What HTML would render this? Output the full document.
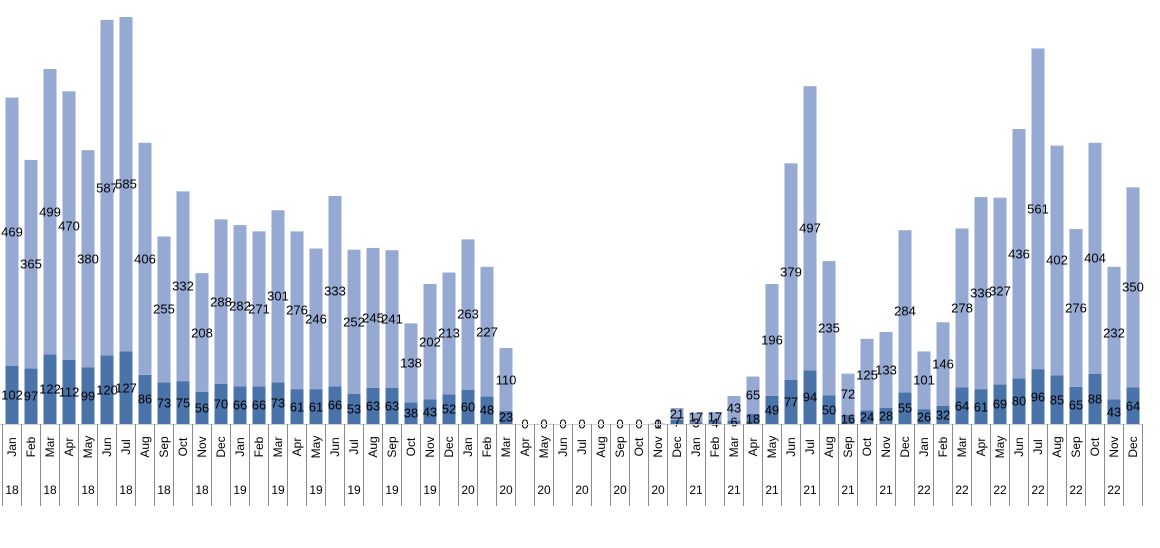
<!DOCTYPE html>
<html><head><meta charset="utf-8"><style>
html,body{margin:0;padding:0;background:#fff;width:1160px;height:548px;overflow:hidden}
svg text{font-family:"Liberation Sans",sans-serif}
</style></head><body>
<svg width="1160" height="548" viewBox="0 0 1160 548" xmlns="http://www.w3.org/2000/svg">
<g transform="translate(0,424) scale(1,-0.5716)">
<g fill="#4A73A9">
<rect x="5.5" width="13" height="102"/><rect x="24.5" width="13" height="97"/><rect x="43.5" width="13" height="122"/><rect x="62.5" width="13" height="112"/><rect x="81.5" width="13" height="99"/><rect x="100.5" width="13" height="120"/><rect x="119.5" width="13" height="127"/><rect x="138.5" width="13" height="86"/><rect x="157.5" width="13" height="73"/><rect x="176.5" width="13" height="75"/><rect x="195.5" width="13" height="56"/><rect x="214.5" width="13" height="70"/>
<rect x="233.5" width="13" height="66"/><rect x="252.5" width="13" height="66"/><rect x="271.5" width="13" height="73"/><rect x="290.5" width="13" height="61"/><rect x="309.5" width="13" height="61"/><rect x="328.5" width="13" height="66"/><rect x="347.5" width="13" height="53"/><rect x="366.5" width="13" height="63"/><rect x="385.5" width="13" height="63"/><rect x="404.5" width="13" height="38"/><rect x="423.5" width="13" height="43"/><rect x="442.5" width="13" height="52"/>
<rect x="461.5" width="13" height="60"/><rect x="480.5" width="13" height="48"/><rect x="499.5" width="13" height="23"/>
<rect x="670.5" width="13" height="7"/><rect x="689.5" width="13" height="3"/><rect x="708.5" width="13" height="4"/><rect x="727.5" width="13" height="6"/><rect x="746.5" width="13" height="18"/><rect x="765.5" width="13" height="49"/><rect x="784.5" width="13" height="77"/><rect x="803.5" width="13" height="94"/><rect x="822.5" width="13" height="50"/><rect x="841.5" width="13" height="16"/><rect x="860.5" width="13" height="24"/><rect x="879.5" width="13" height="28"/><rect x="898.5" width="13" height="55"/>
<rect x="917.5" width="13" height="26"/><rect x="936.5" width="13" height="32"/><rect x="955.5" width="13" height="64"/><rect x="974.5" width="13" height="61"/><rect x="993.5" width="13" height="69"/><rect x="1012.5" width="13" height="80"/><rect x="1031.5" width="13" height="96"/><rect x="1050.5" width="13" height="85"/><rect x="1069.5" width="13" height="65"/><rect x="1088.5" width="13" height="88"/><rect x="1107.5" width="13" height="43"/><rect x="1126.5" width="13" height="64"/>
</g>
<g fill="#95A9D2">
<rect x="5.5" y="102" width="13" height="469"/><rect x="24.5" y="97" width="13" height="365"/><rect x="43.5" y="122" width="13" height="499"/><rect x="62.5" y="112" width="13" height="470"/><rect x="81.5" y="99" width="13" height="380"/><rect x="100.5" y="120" width="13" height="587"/><rect x="119.5" y="127" width="13" height="585"/><rect x="138.5" y="86" width="13" height="406"/><rect x="157.5" y="73" width="13" height="255"/><rect x="176.5" y="75" width="13" height="332"/><rect x="195.5" y="56" width="13" height="208"/><rect x="214.5" y="70" width="13" height="288"/>
<rect x="233.5" y="66" width="13" height="282"/><rect x="252.5" y="66" width="13" height="271"/><rect x="271.5" y="73" width="13" height="301"/><rect x="290.5" y="61" width="13" height="276"/><rect x="309.5" y="61" width="13" height="246"/><rect x="328.5" y="66" width="13" height="333"/><rect x="347.5" y="53" width="13" height="252"/><rect x="366.5" y="63" width="13" height="245"/><rect x="385.5" y="63" width="13" height="241"/><rect x="404.5" y="38" width="13" height="138"/><rect x="423.5" y="43" width="13" height="202"/><rect x="442.5" y="52" width="13" height="213"/>
<rect x="461.5" y="60" width="13" height="263"/><rect x="480.5" y="48" width="13" height="227"/><rect x="499.5" y="23" width="13" height="110"/><rect x="651.5" y="0" width="13" height="1"/>
<rect x="670.5" y="7" width="13" height="21"/><rect x="689.5" y="3" width="13" height="17"/><rect x="708.5" y="4" width="13" height="17"/><rect x="727.5" y="6" width="13" height="43"/><rect x="746.5" y="18" width="13" height="65"/><rect x="765.5" y="49" width="13" height="196"/><rect x="784.5" y="77" width="13" height="379"/><rect x="803.5" y="94" width="13" height="497"/><rect x="822.5" y="50" width="13" height="235"/><rect x="841.5" y="16" width="13" height="72"/><rect x="860.5" y="24" width="13" height="125"/><rect x="879.5" y="28" width="13" height="133"/><rect x="898.5" y="55" width="13" height="284"/>
<rect x="917.5" y="26" width="13" height="101"/><rect x="936.5" y="32" width="13" height="146"/><rect x="955.5" y="64" width="13" height="278"/><rect x="974.5" y="61" width="13" height="336"/><rect x="993.5" y="69" width="13" height="327"/><rect x="1012.5" y="80" width="13" height="436"/><rect x="1031.5" y="96" width="13" height="561"/><rect x="1050.5" y="85" width="13" height="402"/><rect x="1069.5" y="65" width="13" height="276"/><rect x="1088.5" y="88" width="13" height="404"/><rect x="1107.5" y="43" width="13" height="232"/><rect x="1126.5" y="64" width="13" height="350"/>
</g>
</g>
<g font-size="13" fill="#000" text-anchor="middle" dominant-baseline="central">
<text x="12" y="395">102</text><text x="12" y="232">469</text>
<text x="31" y="396">97</text><text x="31" y="264">365</text>
<text x="50" y="389">122</text><text x="50" y="212">499</text>
<text x="69" y="392">112</text><text x="69" y="226">470</text>
<text x="88" y="396">99</text><text x="88" y="259">380</text>
<text x="107" y="390">120</text><text x="107" y="188">587</text>
<text x="126" y="388">127</text><text x="126" y="184">585</text>
<text x="145" y="399">86</text><text x="145" y="259">406</text>
<text x="164" y="403">73</text><text x="164" y="309">255</text>
<text x="183" y="403">75</text><text x="183" y="286">332</text>
<text x="202" y="408">56</text><text x="202" y="333">208</text>
<text x="221" y="404">70</text><text x="221" y="302">288</text>
<text x="240" y="405">66</text><text x="240" y="306">282</text>
<text x="259" y="405">66</text><text x="259" y="309">271</text>
<text x="278" y="403">73</text><text x="278" y="296">301</text>
<text x="297" y="407">61</text><text x="297" y="310">276</text>
<text x="316" y="407">61</text><text x="316" y="319">246</text>
<text x="335" y="405">66</text><text x="335" y="291">333</text>
<text x="354" y="409">53</text><text x="354" y="322">252</text>
<text x="373" y="406">63</text><text x="373" y="318">245</text>
<text x="392" y="406">63</text><text x="392" y="319">241</text>
<text x="411" y="413">38</text><text x="411" y="363">138</text>
<text x="430" y="412">43</text><text x="430" y="342">202</text>
<text x="449" y="409">52</text><text x="449" y="333">213</text>
<text x="468" y="407">60</text><text x="468" y="314">263</text>
<text x="487" y="410">48</text><text x="487" y="332">227</text>
<text x="506" y="417">23</text><text x="506" y="380">110</text>
<text x="525" y="424">0</text><text x="544" y="424">0</text><text x="563" y="424">0</text><text x="582" y="424">0</text><text x="601" y="424">0</text><text x="620" y="424">0</text><text x="639" y="424">0</text>
<text x="658" y="424">0</text><text x="658" y="424">1</text>
<text x="677" y="422">7</text><text x="677" y="414">21</text>
<text x="696" y="423">3</text><text x="696" y="417">17</text>
<text x="715" y="423">4</text><text x="715" y="417">17</text>
<text x="734" y="422">6</text><text x="734" y="408">43</text>
<text x="753" y="419">18</text><text x="753" y="395">65</text>
<text x="772" y="410">49</text><text x="772" y="340">196</text>
<text x="791" y="402">77</text><text x="791" y="272">379</text>
<text x="810" y="397">94</text><text x="810" y="228">497</text>
<text x="829" y="410">50</text><text x="829" y="328">235</text>
<text x="848" y="419">16</text><text x="848" y="394">72</text>
<text x="867" y="417">24</text><text x="867" y="375">125</text>
<text x="886" y="416">28</text><text x="886" y="370">133</text>
<text x="905" y="408">55</text><text x="905" y="311">284</text>
<text x="924" y="417">26</text><text x="924" y="380">101</text>
<text x="943" y="415">32</text><text x="943" y="364">146</text>
<text x="962" y="406">64</text><text x="962" y="308">278</text>
<text x="981" y="407">61</text><text x="981" y="293">336</text>
<text x="1000" y="404">69</text><text x="1000" y="291">327</text>
<text x="1019" y="401">80</text><text x="1019" y="254">436</text>
<text x="1038" y="397">96</text><text x="1038" y="209">561</text>
<text x="1057" y="400">85</text><text x="1057" y="260">402</text>
<text x="1076" y="405">65</text><text x="1076" y="308">276</text>
<text x="1095" y="399">88</text><text x="1095" y="258">404</text>
<text x="1114" y="412">43</text><text x="1114" y="333">232</text>
<text x="1133" y="406">64</text><text x="1133" y="287">350</text>
</g>
<g stroke="#8c8c8c" stroke-width="1">
<line x1="0" y1="424.5" x2="1143" y2="424.5" stroke="#d0d0d0"/>
<path d="M2.5 424V506M21.5 424V506M40.5 424V506M59.5 424V506M78.5 424V506M97.5 424V506M116.5 424V506M135.5 424V506M154.5 424V506M173.5 424V506M192.5 424V506M211.5 424V506M230.5 424V506M249.5 424V506M268.5 424V506M287.5 424V506M306.5 424V506M325.5 424V506M344.5 424V506M363.5 424V506M382.5 424V506M401.5 424V506M420.5 424V506M439.5 424V506M458.5 424V506M477.5 424V506M496.5 424V506M515.5 424V506M534.5 424V506M553.5 424V506M572.5 424V506M591.5 424V506M610.5 424V506M629.5 424V506M648.5 424V506M667.5 424V506M686.5 424V506M705.5 424V506M724.5 424V506M743.5 424V506M762.5 424V506M781.5 424V506M800.5 424V506M819.5 424V506M838.5 424V506M857.5 424V506M876.5 424V506M895.5 424V506M914.5 424V506M933.5 424V506M952.5 424V506M971.5 424V506M990.5 424V506M1009.5 424V506M1028.5 424V506M1047.5 424V506M1066.5 424V506M1085.5 424V506M1104.5 424V506M1123.5 424V506M1142.5 424V506"/>
</g>
<g font-size="12" fill="#000" text-anchor="middle" dominant-baseline="central">
<text transform="translate(12,447) rotate(-90)">Jan</text><text transform="translate(31,447) rotate(-90)">Feb</text><text transform="translate(50,447) rotate(-90)">Mar</text><text transform="translate(69,447) rotate(-90)">Apr</text><text transform="translate(88,447) rotate(-90)">May</text><text transform="translate(107,447) rotate(-90)">Jun</text><text transform="translate(126,447) rotate(-90)">Jul</text><text transform="translate(145,447) rotate(-90)">Aug</text><text transform="translate(164,447) rotate(-90)">Sep</text><text transform="translate(183,447) rotate(-90)">Oct</text><text transform="translate(202,447) rotate(-90)">Nov</text><text transform="translate(221,447) rotate(-90)">Dec</text>
<text transform="translate(240,447) rotate(-90)">Jan</text><text transform="translate(259,447) rotate(-90)">Feb</text><text transform="translate(278,447) rotate(-90)">Mar</text><text transform="translate(297,447) rotate(-90)">Apr</text><text transform="translate(316,447) rotate(-90)">May</text><text transform="translate(335,447) rotate(-90)">Jun</text><text transform="translate(354,447) rotate(-90)">Jul</text><text transform="translate(373,447) rotate(-90)">Aug</text><text transform="translate(392,447) rotate(-90)">Sep</text><text transform="translate(411,447) rotate(-90)">Oct</text><text transform="translate(430,447) rotate(-90)">Nov</text><text transform="translate(449,447) rotate(-90)">Dec</text>
<text transform="translate(468,447) rotate(-90)">Jan</text><text transform="translate(487,447) rotate(-90)">Feb</text><text transform="translate(506,447) rotate(-90)">Mar</text><text transform="translate(525,447) rotate(-90)">Apr</text><text transform="translate(544,447) rotate(-90)">May</text><text transform="translate(563,447) rotate(-90)">Jun</text><text transform="translate(582,447) rotate(-90)">Jul</text><text transform="translate(601,447) rotate(-90)">Aug</text><text transform="translate(620,447) rotate(-90)">Sep</text><text transform="translate(639,447) rotate(-90)">Oct</text><text transform="translate(658,447) rotate(-90)">Nov</text><text transform="translate(677,447) rotate(-90)">Dec</text>
<text transform="translate(696,447) rotate(-90)">Jan</text><text transform="translate(715,447) rotate(-90)">Feb</text><text transform="translate(734,447) rotate(-90)">Mar</text><text transform="translate(753,447) rotate(-90)">Apr</text><text transform="translate(772,447) rotate(-90)">May</text><text transform="translate(791,447) rotate(-90)">Jun</text><text transform="translate(810,447) rotate(-90)">Jul</text><text transform="translate(829,447) rotate(-90)">Aug</text><text transform="translate(848,447) rotate(-90)">Sep</text><text transform="translate(867,447) rotate(-90)">Oct</text><text transform="translate(886,447) rotate(-90)">Nov</text><text transform="translate(905,447) rotate(-90)">Dec</text>
<text transform="translate(924,447) rotate(-90)">Jan</text><text transform="translate(943,447) rotate(-90)">Feb</text><text transform="translate(962,447) rotate(-90)">Mar</text><text transform="translate(981,447) rotate(-90)">Apr</text><text transform="translate(1000,447) rotate(-90)">May</text><text transform="translate(1019,447) rotate(-90)">Jun</text><text transform="translate(1038,447) rotate(-90)">Jul</text><text transform="translate(1057,447) rotate(-90)">Aug</text><text transform="translate(1076,447) rotate(-90)">Sep</text><text transform="translate(1095,447) rotate(-90)">Oct</text><text transform="translate(1114,447) rotate(-90)">Nov</text><text transform="translate(1133,447) rotate(-90)">Dec</text>
</g>
<g font-size="12" fill="#000" text-anchor="middle">
<text x="12" y="494">18</text><text x="50" y="494">18</text><text x="88" y="494">18</text><text x="126" y="494">18</text><text x="164" y="494">18</text><text x="202" y="494">18</text>
<text x="240" y="494">19</text><text x="278" y="494">19</text><text x="316" y="494">19</text><text x="354" y="494">19</text><text x="392" y="494">19</text><text x="430" y="494">19</text>
<text x="468" y="494">20</text><text x="506" y="494">20</text><text x="544" y="494">20</text><text x="582" y="494">20</text><text x="620" y="494">20</text><text x="658" y="494">20</text>
<text x="696" y="494">21</text><text x="734" y="494">21</text><text x="772" y="494">21</text><text x="810" y="494">21</text><text x="848" y="494">21</text><text x="886" y="494">21</text>
<text x="924" y="494">22</text><text x="962" y="494">22</text><text x="1000" y="494">22</text><text x="1038" y="494">22</text><text x="1076" y="494">22</text><text x="1114" y="494">22</text>
</g>
</svg>
</body></html>
